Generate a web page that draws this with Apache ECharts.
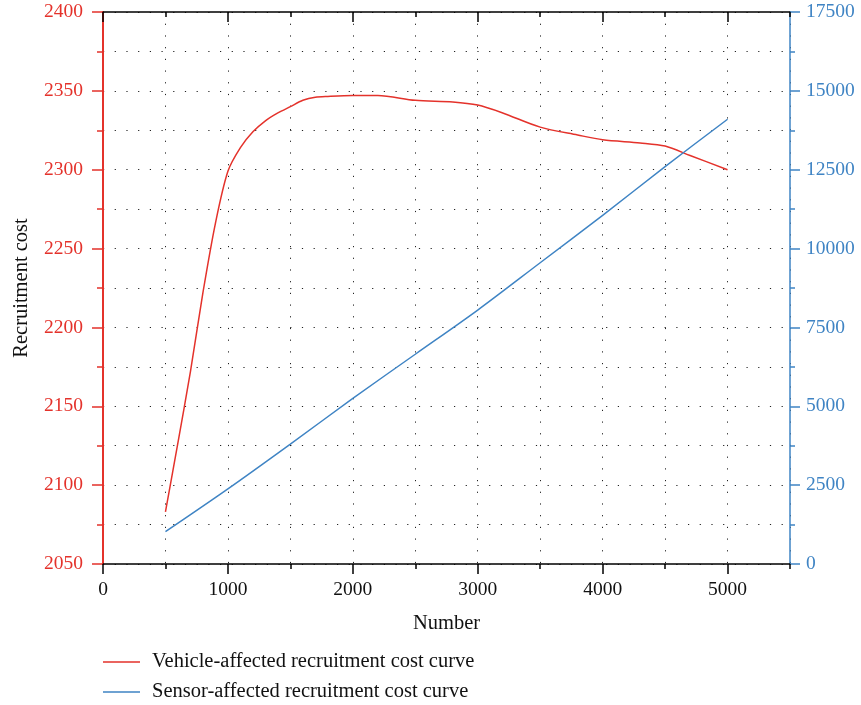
<!DOCTYPE html>
<html lang="en">
<head>
    <meta charset="UTF-8">
    <title>Recruitment cost</title>
    <script src="https://cdn.jsdelivr.net/npm/echarts@6/dist/echarts.min.js"></script>
    <style>
        body { margin: 0; background: #fff; }
    </style>
</head>
<body>
    <div id="main" style="width: 861px; height: 705px;"></div>
    <script>
        // values
        var vehicleX = [500, 600, 700, 800, 900, 1000, 1100, 1200, 1300, 1400, 1500, 1600, 1700, 1800, 2000, 2200, 2500, 2800, 3000, 3200, 3500, 3800, 4000, 4300, 4500, 4700, 5000];
        var vehicleCost = [2083, 2127, 2172, 2222, 2266, 2299, 2314, 2324, 2331, 2336, 2340, 2344, 2346, 2346.5, 2347, 2347, 2344, 2343, 2341, 2336, 2327, 2322, 2319, 2317, 2315, 2309, 2300];
        var sensorX = [500, 1000, 1500, 2000, 2500, 3000, 3500, 4000, 4500, 5000];
        var sensorCost = [1024, 2380, 3800, 5250, 6650, 8050, 9550, 11050, 12600, 14100];
        var majorX = [0, 1000, 2000, 3000, 4000, 5000];
        var seriesNames = ['Vehicle-affected recruitment cost curve', 'Sensor-affected recruitment cost curve'];

        var red = '#e4322b';
        var blue = '#3f84c4';
        var font = 'Liberation Serif';
        var dots = { color: '#222', width: 1, type: [1.2, 10.5] };
        // a flat line with invisible corner points so the legend icon keeps a 37x14 box
        var lineIcon = 'path://M0,6.3H37V7.8H0ZM0,0H0.01V0.01H0ZM36.99,13.99H37V14H36.99Z';

        function pairs(xs, ys) {
            return xs.map(function (x, i) { return [x, ys[i]]; });
        }
        function plain(v) { return String(v); }

        var myChart = echarts.init(document.getElementById('main'));
        var option = {
            animation: false,
            textStyle: { fontFamily: font },
            grid: { left: 103, right: 71, top: 12, bottom: 141, containLabel: false },
            legend: {
                orient: 'vertical',
                left: 103,
                top: 651,
                padding: 0,
                itemWidth: 37,
                itemHeight: 14,
                itemGap: 8,
                textStyle: { fontFamily: font, fontSize: 20.5, lineHeight: 22, color: '#111', padding: [0, 0, 0, 7] },
                data: [
                    { name: seriesNames[0], icon: lineIcon },
                    { name: seriesNames[1], icon: lineIcon }
                ]
            },
            xAxis: [
                {
                    type: 'value', min: 0, max: 5500, interval: 500,
                    name: 'Number', nameLocation: 'middle', nameGap: 49,
                    nameTextStyle: { fontFamily: font, fontSize: 20.5, color: '#111' },
                    axisLine: { show: true, onZero: false, lineStyle: { color: '#000', width: 1.5 } },
                    axisTick: { show: true, length: 5, lineStyle: { color: '#000', width: 1.5 } },
                    axisLabel: {
                        margin: 16, fontFamily: font, fontSize: 19.5, color: '#111',
                        formatter: function (v) { return (v % 1000 === 0 && v <= 5000) ? String(v) : ''; }
                    },
                    splitLine: { show: true, lineStyle: dots }
                },
                {
                    type: 'value', min: 0, max: 5500, position: 'bottom',
                    axisLine: { show: false, onZero: false },
                    axisTick: { show: true, length: 10, customValues: majorX, lineStyle: { color: '#000', width: 1.5 } },
                    axisLabel: { show: false },
                    splitLine: { show: false }
                },
                {
                    type: 'value', min: 0, max: 5500, interval: 500, position: 'top',
                    axisLine: { show: true, onZero: false, lineStyle: { color: '#000', width: 1.5 } },
                    axisTick: { show: true, inside: true, length: 5, lineStyle: { color: '#000', width: 1.5 } },
                    axisLabel: { show: false },
                    splitLine: { show: false }
                },
                {
                    type: 'value', min: 0, max: 5500, position: 'top',
                    axisLine: { show: false, onZero: false },
                    axisTick: { show: true, inside: true, length: 10, customValues: majorX, lineStyle: { color: '#000', width: 1.5 } },
                    axisLabel: { show: false },
                    splitLine: { show: false }
                }
            ],
            yAxis: [
                {
                    type: 'value', min: 2050, max: 2400, interval: 50, position: 'left',
                    name: 'Recruitment cost', nameLocation: 'middle', nameGap: 71,
                    nameTextStyle: { fontFamily: font, fontSize: 20.5, color: '#111' },
                    axisLine: { show: true, onZero: false, lineStyle: { color: red, width: 2 } },
                    axisTick: { show: true, length: 11, lineStyle: { color: red, width: 1.5 } },
                    minorTick: { show: true, splitNumber: 2, length: 6, lineStyle: { color: red, width: 1.5 } },
                    axisLabel: { margin: 20, fontFamily: font, fontSize: 19.5, color: red, formatter: plain },
                    splitLine: { show: true, lineStyle: dots },
                    minorSplitLine: { show: true, lineStyle: dots }
                },
                {
                    type: 'value', min: 0, max: 17500, interval: 2500, position: 'right',
                    axisLine: { show: true, onZero: false, lineStyle: { color: blue, width: 1.5 } },
                    axisTick: { show: true, length: 10, lineStyle: { color: blue, width: 1.5 } },
                    minorTick: { show: true, splitNumber: 2, length: 5, lineStyle: { color: blue, width: 1.5 } },
                    axisLabel: { margin: 16, fontFamily: font, fontSize: 19.5, color: blue, formatter: plain },
                    splitLine: { show: false }
                }
            ],
            series: [
                {
                    name: seriesNames[0],
                    type: 'line',
                    xAxisIndex: 0,
                    yAxisIndex: 0,
                    data: pairs(vehicleX, vehicleCost),
                    smooth: 0.3,
                    symbol: 'none',
                    lineStyle: { color: red, width: 1.5 },
                    itemStyle: { color: red }
                },
                {
                    name: seriesNames[1],
                    type: 'line',
                    xAxisIndex: 0,
                    yAxisIndex: 1,
                    data: pairs(sensorX, sensorCost),
                    smooth: 0.3,
                    symbol: 'none',
                    lineStyle: { color: blue, width: 1.5 },
                    itemStyle: { color: blue }
                }
            ]
        };
        myChart.setOption(option);
    </script>
</body>
</html>
